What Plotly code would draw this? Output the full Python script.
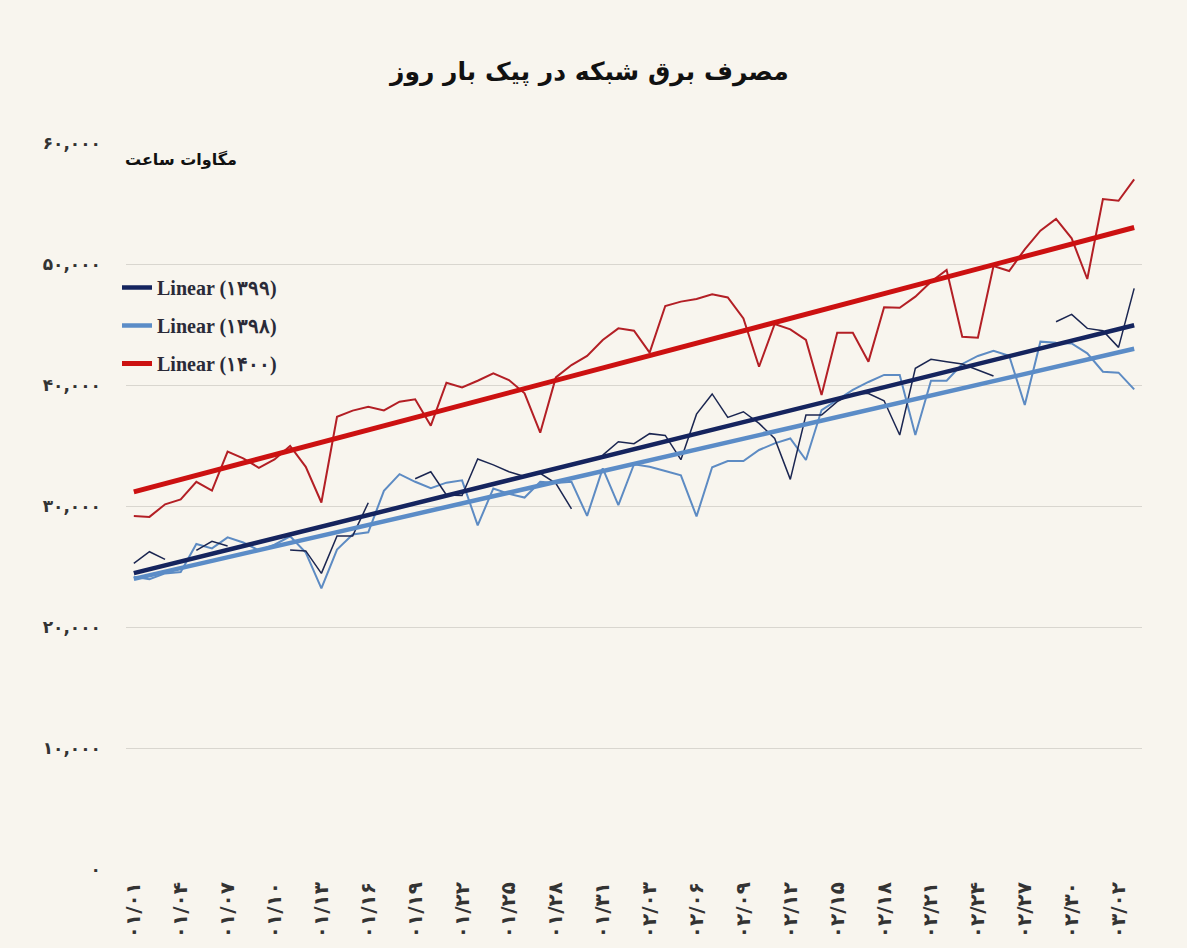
import numpy as np
import plotly.graph_objects as go

FA = str.maketrans("0123456789", "۰۱۲۳۴۵۶۷۸۹")

def fa(s):
    return str(s).translate(FA)

# Day labels (month/day), Farvardin (31 days), Ordibehesht (31 days), Khordad
days = [f"01/{d:02d}" for d in range(1, 32)] + [f"02/{d:02d}" for d in range(1, 32)] + [f"03/{d:02d}" for d in range(1, 4)]
day_labels = [fa(d) for d in days]

# Peak daily grid consumption (MWh)
y1400 = [29170, 29100, 30140, 30550, 32000, 31270, 34490, 33940, 33160, 33850,
         34960, 33240, 30290, 37380, 37880, 38210, 37900, 38620, 38820, 36640,
         40190, 39800, 40350, 40960, 40410, 39310, 36060, 40630, 41650, 42400,
         43720, 44680, 44490, 42670, 46530, 46890, 47110, 47490, 47240, 45500,
         41510, 45040, 44600, 43720, 39170, 44320, 44320, 41930, 46420, 46380,
         47300, 48530, 49500, 43990, 43910, 49830, 49420, 51210, 52750, 53720,
         52120, 48760, 55370, 55230, 56990]

y1398 = [24150, 23950, 24430, 24540, 26860, 26500, 27410, 26980, 26330, 26800,
         27500, 26150, 23190, 26400, 27640, 27830, 31250, 32630, 32000, 31470,
         31930, 32120, 28400, 31450, 31000, 30700, 32000, 31900, 32000, 29180,
         33110, 30080, 33450, 33250, 32900, 32530, 29140, 33200, 33720, 33720,
         34630, 35180, 35580, 33800, 37930, 38800, 39600, 40250, 40830, 40830,
         35870, 40360, 40360, 41740, 42400, 42830, 42420, 38350, 43580, 43490,
         43440, 42620, 41100, 41020, 39640]

y1399 = [25260, 26220, 25590, None, 26330, 27080, 26700, None, None, None,
         26360, 26290, 24430, 27530, 27530, 30270, None, None, 32250, 32830,
         30910, 30870, 33880, 33400, 32830, 32450, 32700, 31870, 29760, None,
         34210, 35310, 35150, 35980, 35830, 33830, 37590, 39260, 37320, 37790,
         36830, 35580, 32200, 37520, 37520, 38620, 39300, 39300, 38700, 35870,
         41380, 42120, 41930, 41740, 41240, 40740, None, None, None, 45230,
         45840, 44680, 44490, 43110, 47990]

y_ticks = [0, 10000, 20000, 30000, 40000, 50000, 60000]
y_tick_labels = [fa(f"{v:,}") for v in y_ticks]

series = [
    ("۱۳۹۸", y1398, "#5d8bc3", 2.0, "#5b8cc7", 4.5),
    ("۱۳۹۹", y1399, "#1b2651", 1.5, "#15245e", 4.5),
    ("۱۴۰۰", y1400, "#b31f25", 2.0, "#cc1111", 5.0),
]
legend_rank = {"۱۳۹۹": 1, "۱۳۹۸": 2, "۱۴۰۰": 3}

x = list(range(len(days)))
fig = go.Figure()

for name, ys, col, w, tcol, tw in series:
    fig.add_trace(go.Scatter(x=x, y=ys, mode="lines", line=dict(color=col, width=w),
                             connectgaps=False, showlegend=False, hoverinfo="skip"))

for name, ys, col, w, tcol, tw in series:
    xv = np.array([i for i, v in zip(x, ys) if v is not None], dtype=float)
    yv = np.array([v for v in ys if v is not None], dtype=float)
    a, b = np.polyfit(xv, yv, 1)
    xt = [x[0], x[-1]]
    yt = [a * xt[0] + b, a * xt[1] + b]
    fig.add_trace(go.Scatter(x=xt, y=yt, mode="lines", line=dict(color=tcol, width=tw),
                             name=f"Linear ({name})", legendrank=legend_rank[name],
                             legendgroup=name, hoverinfo="skip"))

# plot-area pixel geometry helpers (for annotation placement only)
L, R, T, B, W, H = 126, 45, 143, 79, 1187, 948
PW, PH = W - L - R, H - T - B

def px_x(px):
    return (px - L) / PW

def px_y(py):
    return (H - B - py) / PH

bg = "#f8f5ee"
fig.update_layout(
    width=W, height=H, autosize=False,
    paper_bgcolor=bg, plot_bgcolor=bg,
    margin=dict(l=L, r=R, t=T, b=B, autoexpand=False),
    showlegend=True,
    legend=dict(xref="container", yref="container", x=117 / W, y=1 - 268 / H,
                xanchor="left", yanchor="top", bgcolor="rgba(0,0,0,0)",
                font=dict(family="Liberation Serif", size=20, color="#2a2a38", weight="bold"),
                traceorder="grouped", tracegroupgap=9, itemwidth=30),
    xaxis=dict(range=[-0.5, len(days) - 0.5], tickmode="array",
               tickvals=x[::3], ticktext=day_labels[::3], tickangle=-90,
               showgrid=False, zeroline=False, showline=False, ticks="",
               ticklabelstandoff=8,
               tickfont=dict(family="DejaVu Sans", size=20, color="#333333", weight="bold")),
    yaxis=dict(range=[0, 60000], tickmode="array", tickvals=y_ticks, ticktext=y_tick_labels,
               showgrid=True, gridcolor="#d9d6cf", gridwidth=1, zeroline=False,
               showline=False, ticks="", ticklabelstandoff=24,
               tickfont=dict(family="DejaVu Sans", size=17, color="#333333", weight="bold")),
    annotations=[
        dict(text="مصرف برق شبکه در پیک بار روز", xref="paper", yref="paper",
             x=px_x(588), y=px_y(72), xanchor="center", yanchor="middle",
             showarrow=False, font=dict(family="DejaVu Sans", size=25, color="#111111", weight="bold")),
        dict(text="مگاوات ساعت", xref="paper", yref="paper",
             x=px_x(181), y=px_y(160), xanchor="center", yanchor="middle",
             showarrow=False, font=dict(family="DejaVu Sans", size=16, color="#111111", weight="bold")),
    ],
)

fig.write_html("out.html")
